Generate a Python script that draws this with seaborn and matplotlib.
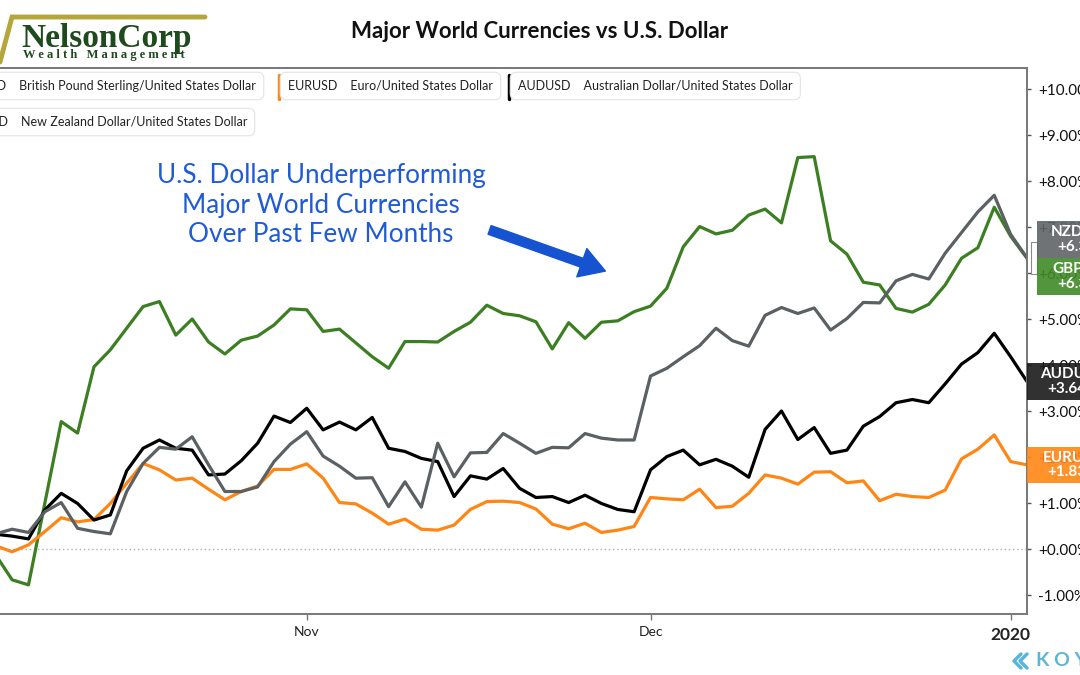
import numpy as np
import pandas as pd
import matplotlib
matplotlib.use("Agg")
import matplotlib.pyplot as plt
import matplotlib.transforms as mtrans
from matplotlib.patches import Rectangle, FancyArrowPatch
from matplotlib.lines import Line2D
import seaborn as sb

# trading days shown on the chart (weekends skipped, index axis like Koyfin)
dates = pd.bdate_range("2019-10-07", "2020-01-02")

# % change vs start
gbp = [-0.13, -0.67, -0.78, 1.00, 2.77, 2.52, 3.96, 4.33, 4.80, 5.27, 5.38, 4.65, 5.00, 4.50, 4.24, 4.54,
       4.63, 4.87, 5.22, 5.20, 4.73, 4.78, 4.48, 4.18, 3.93, 4.51, 4.51, 4.50, 4.73, 4.93, 5.30, 5.12,
       5.07, 4.94, 4.35, 4.92, 4.58, 4.93, 4.96, 5.16, 5.28, 5.67, 6.57, 7.01, 6.85, 6.93, 7.26, 7.39,
       7.09, 8.51, 8.53, 6.70, 6.41, 5.80, 5.74, 5.23, 5.15, 5.32, 5.74, 6.32, 6.55, 7.43, 6.80, 6.32]
eur = [0.07, -0.06, 0.09, 0.38, 0.68, 0.59, 0.64, 0.99, 1.43, 1.86, 1.72, 1.50, 1.54, 1.30, 1.07, 1.25,
       1.37, 1.73, 1.73, 1.85, 1.54, 1.01, 0.98, 0.78, 0.54, 0.65, 0.43, 0.41, 0.52, 0.86, 1.03, 1.04,
       1.01, 0.87, 0.54, 0.44, 0.56, 0.36, 0.41, 0.49, 1.12, 1.09, 1.07, 1.30, 0.90, 0.93, 1.21, 1.61,
       1.54, 1.41, 1.67, 1.68, 1.44, 1.48, 1.05, 1.19, 1.14, 1.12, 1.28, 1.96, 2.17, 2.48, 1.90, 1.83]
aud = [0.32, 0.28, 0.22, 0.85, 1.21, 0.99, 0.63, 0.74, 1.70, 2.19, 2.37, 2.19, 2.15, 1.61, 1.63, 1.92,
       2.30, 2.89, 2.75, 3.06, 2.59, 2.76, 2.59, 2.86, 2.19, 2.12, 1.97, 1.90, 1.14, 1.59, 1.52, 1.75,
       1.32, 1.12, 1.14, 1.01, 1.17, 0.99, 0.86, 0.81, 1.72, 2.01, 2.15, 1.83, 1.95, 1.80, 1.56, 2.60,
       3.00, 2.38, 2.64, 2.08, 2.15, 2.67, 2.88, 3.18, 3.25, 3.18, 3.59, 4.02, 4.27, 4.69, 4.18, 3.64]
nzd = [0.33, 0.43, 0.36, 0.81, 1.01, 0.45, 0.38, 0.33, 1.25, 1.86, 2.21, 2.17, 2.44, 1.83, 1.25, 1.25,
       1.35, 1.90, 2.28, 2.55, 2.02, 1.80, 1.54, 1.55, 0.92, 1.46, 0.91, 2.30, 1.57, 2.09, 2.10, 2.51,
       2.30, 2.08, 2.21, 2.20, 2.51, 2.41, 2.37, 2.37, 3.76, 3.93, 4.18, 4.42, 4.80, 4.53, 4.41, 5.08,
       5.25, 5.12, 5.24, 4.76, 5.01, 5.36, 5.35, 5.83, 5.97, 5.87, 6.43, 6.88, 7.33, 7.69, 6.84, 6.33]

pairs = ["GBPUSD", "EURUSD", "AUDUSD", "NZDUSD"]
names = ["British Pound Sterling/United States Dollar", "Euro/United States Dollar",
         "Australian Dollar/United States Dollar", "New Zealand Dollar/United States Dollar"]
colors = {"GBPUSD": "#3b7f22", "EURUSD": "#ff8614", "AUDUSD": "#000000", "NZDUSD": "#5b6063"}
box_colors = {"GBPUSD": "#3f8a28", "EURUSD": "#ff8614", "AUDUSD": "#1a1a1a", "NZDUSD": "#5f6467"}

series = {"GBPUSD": gbp, "EURUSD": eur, "AUDUSD": aud, "NZDUSD": nzd}
df = pd.concat([pd.DataFrame({"idx": np.arange(len(dates)), "date": dates, "pct": v, "pair": k})
                for k, v in series.items()])

sb.set_theme(style="white")
plt.rcParams["font.family"] = ["Lato", "DejaVu Sans"]

W, H = 1080, 675
fig = plt.figure(figsize=(W / 100, H / 100), dpi=100)
ax = fig.add_axes([0, (H - 614) / H, 1027 / W, (614 - 68) / H])

def fx(px):
    return px / W

def fy(py):
    return 1 - py / H

sb.lineplot(data=df, x="idx", y="pct", hue="pair", palette=colors, legend=False, lw=2.3, ax=ax)
ax.axhline(0, color="#b0b0b0", lw=1, ls=(0, (1, 2)), zorder=0)

ax.set_xlim(0.26, 63)
ax.set_ylim(-1.413, 10.457)
ax.set_xlabel("")
ax.set_ylabel("")

# x ticks at the first trading day of each month
tick_dates = ["2019-11-01", "2019-12-02", "2020-01-01"]
tick_pos = [int(np.where(dates == pd.Timestamp(d))[0][0]) for d in tick_dates]
ax.set_xticks(tick_pos)
ax.set_xticklabels(["Nov", "Dec", "2020"], fontsize=10, color="#222222")
ax.get_xticklabels()[2].set_fontweight("bold")
ax.get_xticklabels()[2].set_fontsize(12.5)
ax.tick_params(axis="x", length=4, width=1, color="#777777", pad=5, bottom=True)

ax.yaxis.tick_right()
ax.set_yticks(range(-1, 11))
ax.set_yticklabels([f"{v:+.2f}%" if v != 0 else "+0.00%" for v in range(-1, 11)], fontsize=11, color="#111111")
ax.tick_params(axis="y", length=3, width=1, color="#555555", pad=5, right=True)

for s in ["top", "right", "bottom"]:
    ax.spines[s].set_color("#777777")
    ax.spines[s].set_linewidth(1.4)
ax.spines["left"].set_visible(False)

# end-of-line value labels
last = {k: v[-1] for k, v in series.items()}
blend = mtrans.blended_transform_factory(fig.transFigure, ax.transData)
box_h = 0.79
label_spots = {
    "NZDUSD": (1037, last["NZDUSD"], last["NZDUSD"] + box_h),
    "GBPUSD": (1037, last["GBPUSD"] - box_h, last["GBPUSD"]),
    "AUDUSD": (1027, last["AUDUSD"] - box_h / 2, last["AUDUSD"] + box_h / 2),
    "EURUSD": (1027, last["EURUSD"] - box_h / 2, last["EURUSD"] + box_h / 2),
}
for k, (x0, y0, y1) in label_spots.items():
    ax.add_patch(Rectangle((fx(x0), y0), fx(120), y1 - y0, transform=blend, fc=box_colors[k],
                           ec="none", alpha=0.9, clip_on=False, zorder=6))
    ax.text(fx(x0 + 46), (y0 + y1) / 2, f"{k}\n{last[k]:+.2f}%", transform=blend, ha="center",
            va="center", color="white", fontsize=11, fontweight="bold", linespacing=1.05,
            clip_on=False, zorder=7)
# little bracket joining the stacked labels to the line end
ax.add_patch(Rectangle((fx(1031), last["GBPUSD"] - 0.35), fx(6), 0.7, transform=blend, fc="none",
                       ec="#8a8a8a", lw=0.8, clip_on=False, zorder=5))

# title
fig.text(0.5, fy(32), "Major World Currencies vs U.S. Dollar", ha="center", va="center",
         fontsize=16, fontweight="bold", color="#111111")

# legend chips along the top
def chip(x, y, text, ha):
    return fig.text(fx(x), fy(y), text, ha=ha, va="center", fontsize=9, color="#222222",
                    bbox=dict(boxstyle="round,pad=0.62,rounding_size=0.5", fc="white", ec="#e3e3e3", lw=0.8))

chip(256, 86, "GBPUSD    " + names[0], "right")
chip(288, 86, "EURUSD    " + names[1], "left")
fig.add_artist(Line2D([fx(279), fx(279)], [fy(75), fy(99)], color=colors["EURUSD"], lw=2.5))
chip(518, 86, "AUDUSD    " + names[2], "left")
fig.add_artist(Line2D([fx(509), fx(509)], [fy(75), fy(99)], color=colors["AUDUSD"], lw=2.5))
chip(247, 122, "NZDUSD    " + names[3], "right")

# callout
fig.text(fx(321), fy(205), "U.S. Dollar Underperforming\nMajor World Currencies\nOver Past Few Months",
         ha="center", va="center", fontsize=18.8, color="#1f5bd6", linespacing=1.2)
fig.add_artist(FancyArrowPatch((fx(487), fy(229)), (fx(608), fy(272)), transform=fig.transFigure,
                               arrowstyle="simple,head_length=1.5,head_width=1.8,tail_width=0.55",
                               mutation_scale=12, color="#1553d0"))

# company logo
fig.add_artist(Line2D([fx(0), fx(12), fx(205)], [fy(62), fy(17), fy(17)], color="#b4a63a", lw=3.5,
                      solid_joinstyle="miter"))
fig.text(fx(21), fy(38), "NelsonCorp", ha="left", va="center", fontsize=24, fontweight="bold",
         family=["Liberation Serif"], color="#1e4a1e")
fig.text(fx(23), fy(55), "W e a l t h   M a n a g e m e n t", ha="left", va="center",
         fontsize=9, fontweight="bold", family=["Liberation Serif"], color="#1e4a1e")

# data vendor mark
kc = "#5ab6d8"
fig.add_artist(Line2D([fx(1021), fx(1014), fx(1021)], [fy(654), fy(661), fy(668)], color=kc, lw=2.5))
fig.add_artist(Line2D([fx(1027), fx(1020), fx(1027)], [fy(654), fy(661), fy(668)], color=kc, lw=2.5))
fig.text(fx(1036), fy(661), "K O Y F I N", ha="left", va="center", fontsize=14, color=kc, fontweight="bold")

fig.savefig("out.png", dpi=100)
